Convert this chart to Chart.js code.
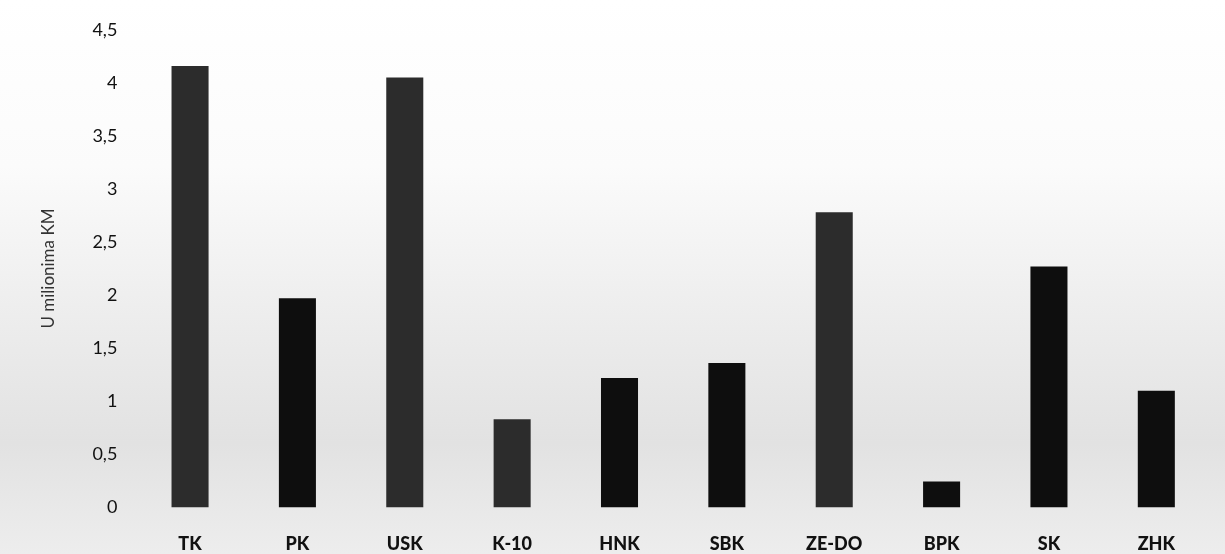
<!DOCTYPE html>
<html>
<head>
<meta charset="utf-8">
<script src="https://cdn.jsdelivr.net/npm/chart.js@4"></script>
<style>
	html, body { margin: 0; padding: 0; background: #fff; }
	#wrap { width: 1225px; height: 554px; }
</style>
</head>
<body>
<div id="wrap"><canvas id="myChart"></canvas></div>
<script>
const categories = ["TK", "PK", "USK", "K-10", "HNK", "SBK", "ZE-DO", "BPK", "SK", "ZHK"];
const values = [4.16, 1.97, 4.05, 0.83, 1.22, 1.36, 2.78, 0.245, 2.27, 1.10];
const greyBars = ["TK", "USK", "K-10", "ZE-DO"];

// scanned page look: white at top, grey towards the bottom
const paper = {
	id: "paper",
	beforeDraw(chart) {
		let ctx = chart.ctx;
		let g = ctx.createLinearGradient(0, 0, 0, chart.height);
		g.addColorStop(0, "#ffffff");
		g.addColorStop(0.3, "#fbfbfb");
		g.addColorStop(0.55, "#eeeeee");
		g.addColorStop(0.8, "#e2e2e2");
		g.addColorStop(1, "#ededed");
		ctx.save();
		ctx.fillStyle = g;
		ctx.fillRect(0, 0, chart.width, chart.height);
		ctx.restore();
	}
};

function barColor(c) {
	let i = c.dataIndex;
	if (greyBars.indexOf(categories[i]) < 0) return "#0e0e0e";
	let meta = c.chart.getDatasetMeta(0).data[i];
	if (!meta || !isFinite(meta.x) || !isFinite(meta.width)) return "#2c2c2c";
	let half = meta.width / 2;
	let g = c.chart.ctx.createLinearGradient(meta.x - half, 0, meta.x + half, 0);
	g.addColorStop(0, "#1e1e1e");
	g.addColorStop(0.5, "#3a3a3a");
	g.addColorStop(1, "#1e1e1e");
	return g;
}

const data = {
	labels: categories,
	datasets: [{
		data: values,
		backgroundColor: barColor,
		borderWidth: 0,
		barPercentage: 0.69,
		categoryPercentage: 0.5
	}]
};

const config = {
	type: "bar",
	data: data,
	plugins: [paper],
	options: {
		responsive: false,
		animation: false,
		layout: { padding: { top: 10, right: 15, bottom: -19, left: 38 } },
		plugins: { legend: { display: false }, tooltip: { enabled: false } },
		scales: {
			x: {
				grid: { display: false },
				border: { display: false },
				ticks: { color: "#111", font: { family: "Lato", size: 18, weight: "900" }, padding: 18 }
			},
			y: {
				min: 0,
				max: 4.5,
				grid: { display: false, drawTicks: false },
				border: { display: false },
				ticks: {
					stepSize: 0.5,
					color: "#111",
					padding: 19,
					font: { family: "Lato", size: 18 },
					callback: v => String(v).replace(".", ",")
				},
				title: {
					display: true,
					text: "U milionima KM",
					color: "#333",
					font: { family: "Lato", size: 17 },
					padding: { top: 0, bottom: 15 }
				}
			}
		}
	}
};

let canvas = document.getElementById("myChart");
canvas.width = 1225;
canvas.height = 554;
new Chart(canvas.getContext("2d"), config);
</script>
</body>
</html>
